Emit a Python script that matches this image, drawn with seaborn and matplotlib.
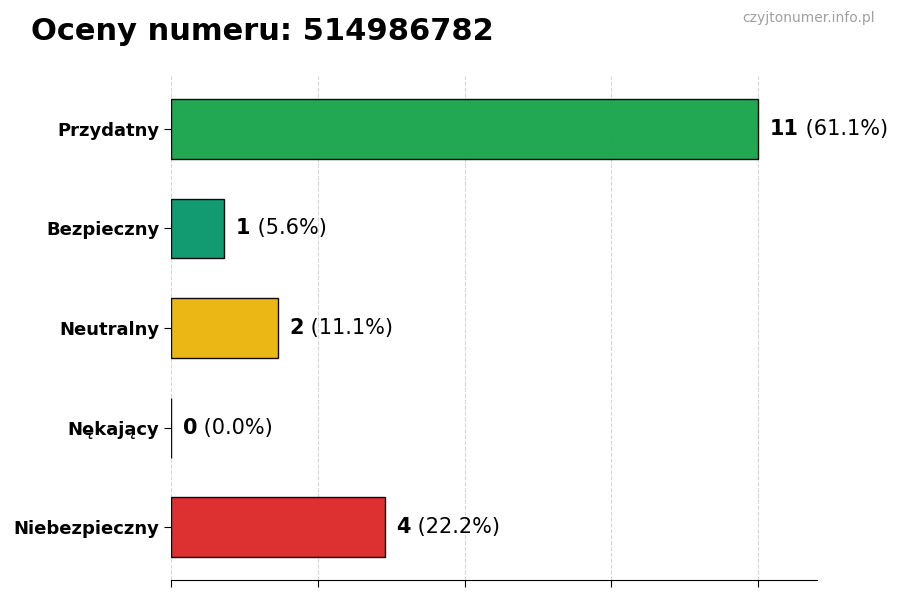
import matplotlib
matplotlib.use("Agg")
import numpy as np
import pandas as pd
import matplotlib.pyplot as plt
import seaborn as sns

categories = ["Przydatny", "Bezpieczny", "Neutralny", "Nękający", "Niebezpieczny"]
counts = [11, 1, 2, 0, 4]
colors = ["#16a34a", "#059669", "#eab308", "#f97316", "#dc2626"]
phone = "514986782"

total = sum(counts)
df = pd.DataFrame({"kategoria": categories, "liczba": counts})

sns.set_style("white")
plt.rcParams["font.family"] = ["DejaVu Sans"]
plt.rcParams["text.color"] = "black"
plt.rcParams["xtick.color"] = "black"
plt.rcParams["ytick.color"] = "black"
plt.rcParams["axes.labelcolor"] = "black"

fig = plt.figure(figsize=(9, 6), dpi=100)
ax = fig.add_axes([0.19, 0.0333, 0.7178, 0.84])

sns.barplot(data=df, x="liczba", y="kategoria", hue="kategoria", palette=colors,
            saturation=1, orient="h", width=0.6, edgecolor="black", linewidth=1,
            alpha=0.95, legend=False, ax=ax)

ax.set_xlim(0, max(counts) * 1.1)
ax.set_ylim(len(categories) - 0.47, -0.53)
ax.set_xticks(np.linspace(0, max(counts), 5))
ax.set_xticklabels([])
ax.grid(axis="x", linestyle="--", color="#cccccc", alpha=0.8, linewidth=0.8)
ax.set_axisbelow(True)
ax.set_xlabel("")
ax.set_ylabel("")
ax.tick_params(axis="both", length=5, width=0.8, color="black", left=True, bottom=True)
for lbl in ax.get_yticklabels():
    lbl.set_fontweight("bold")
    lbl.set_fontsize(13)
    lbl.set_color("black")
for s in ["top", "right", "left"]:
    ax.spines[s].set_visible(False)
ax.spines["bottom"].set_color("black")

# value labels: bold count + regular percentage
for i, v in enumerate(counts):
    pct = v / total * 100
    t = ax.text(v + 0.22, i, f"{v}", fontsize=15, fontweight="bold",
                va="center", ha="left", color="black")
    ax.annotate(f" ({pct:.1f}%)", xy=(1, 0), xycoords=t, fontsize=15,
                va="bottom", ha="left", color="black")

fig.text(0.034, 0.947, f"Oceny numeru: {phone}", fontsize=22, fontweight="bold",
         ha="left", va="center", color="black")
fig.text(0.972, 0.97, "czyjtonumer.info.pl", fontsize=10, color="#a0a0a0",
         ha="right", va="center")

fig.savefig("out.png", dpi=100)
